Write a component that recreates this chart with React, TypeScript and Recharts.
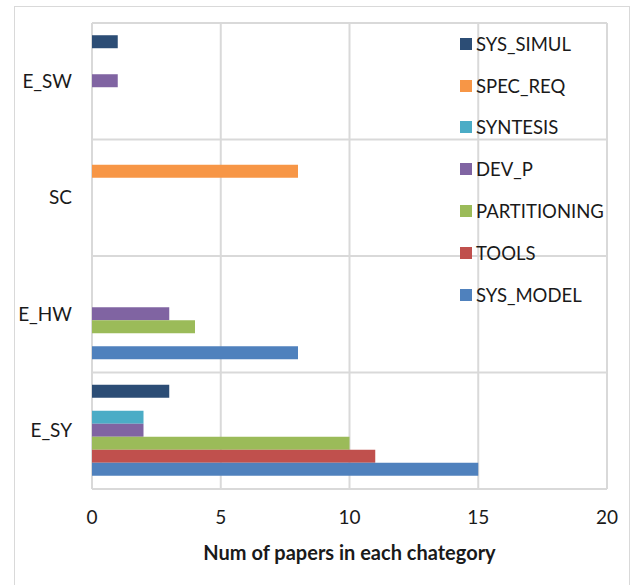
import { BarChart, Bar, XAxis, YAxis, CartesianGrid } from "recharts"

const categories = ["E_SW", "SC", "E_HW", "E_SY"]

const sysSimul = [1, 0, 0, 3]
const specReq = [0, 8, 0, 0]
const syntesis = [0, 0, 0, 2]
const devP = [1, 0, 3, 2]
const partitioning = [0, 0, 4, 10]
const tools = [0, 0, 0, 11]
const sysModel = [0, 0, 8, 15]

const xTicks = [0, 5, 10, 15, 20]

// top to bottom inside each band, same order as the legend
const series = [
  { key: "SYS_SIMUL", values: sysSimul, color: "#2C4D75" },
  { key: "SPEC_REQ", values: specReq, color: "#F79646" },
  { key: "SYNTESIS", values: syntesis, color: "#4BACC6" },
  { key: "DEV_P", values: devP, color: "#8064A2" },
  { key: "PARTITIONING", values: partitioning, color: "#9BBB59" },
  { key: "TOOLS", values: tools, color: "#C0504D" },
  { key: "SYS_MODEL", values: sysModel, color: "#4F81BD" },
]

const data = categories.map((name, i) => {
  const row: Record<string, string | number> = { name }
  series.forEach((s) => {
    row[s.key] = s.values[i]
  })
  return row
})

const font = "Lato, 'Open Sans', sans-serif"
const textColor = "#1a1a1a"
const gridColor = "#d9d9d9"

function SeriesLegend() {
  return (
    <div
      style={{
        position: "absolute",
        left: 460,
        top: 23,
        fontFamily: font,
        fontSize: 18.5,
        color: textColor,
        pointerEvents: "none",
      }}
    >
      {series.map((s) => (
        <div key={s.key} style={{ display: "flex", alignItems: "center", height: 41.8 }}>
          <span style={{ width: 12, height: 12, background: s.color, marginRight: 4 }} />
          <span>{s.key}</span>
        </div>
      ))}
    </div>
  )
}

export default function App() {
  return (
    <div style={{ position: "absolute", left: 0, top: 0, width: 636, height: 585, overflow: "hidden", background: "#fff" }}>
      <div
        style={{
          position: "absolute",
          left: 14,
          top: 6,
          width: 616,
          height: 600,
          border: `1px solid ${gridColor}`,
          boxSizing: "border-box",
        }}
      />
      <BarChart
        width={636}
        height={585}
        data={data}
        layout="vertical"
        margin={{ top: 23, right: 29, left: 0, bottom: 0 }}
        barCategoryGap="10.5%"
        barGap={0}
        style={{ fontFamily: font }}
      >
        <CartesianGrid
          stroke={gridColor}
          strokeWidth={2}
          horizontalCoordinatesGenerator={({ offset }: any) =>
            categories.map((_, i) => offset.top + (i * offset.height) / categories.length).concat(offset.top + offset.height)
          }
        />
        <XAxis
          type="number"
          domain={[0, 20]}
          ticks={xTicks}
          axisLine={false}
          tickLine={false}
          tickMargin={16}
          height={96}
          tick={{ fill: textColor, fontSize: 19 }}
          label={{
            value: "Num of papers in each chategory",
            position: "insideBottom",
            offset: 25,
            style: { fill: textColor, fontSize: 20, fontWeight: 700 },
          }}
        />
        <YAxis
          type="category"
          dataKey="name"
          width={92}
          axisLine={false}
          tickLine={false}
          tickMargin={14}
          tick={{ fill: textColor, fontSize: 19 }}
        />
        {series.map((s) => (
          <Bar key={s.key} dataKey={s.key} fill={s.color} isAnimationActive={false} />
        ))}
      </BarChart>
      <SeriesLegend />
    </div>
  )
}
